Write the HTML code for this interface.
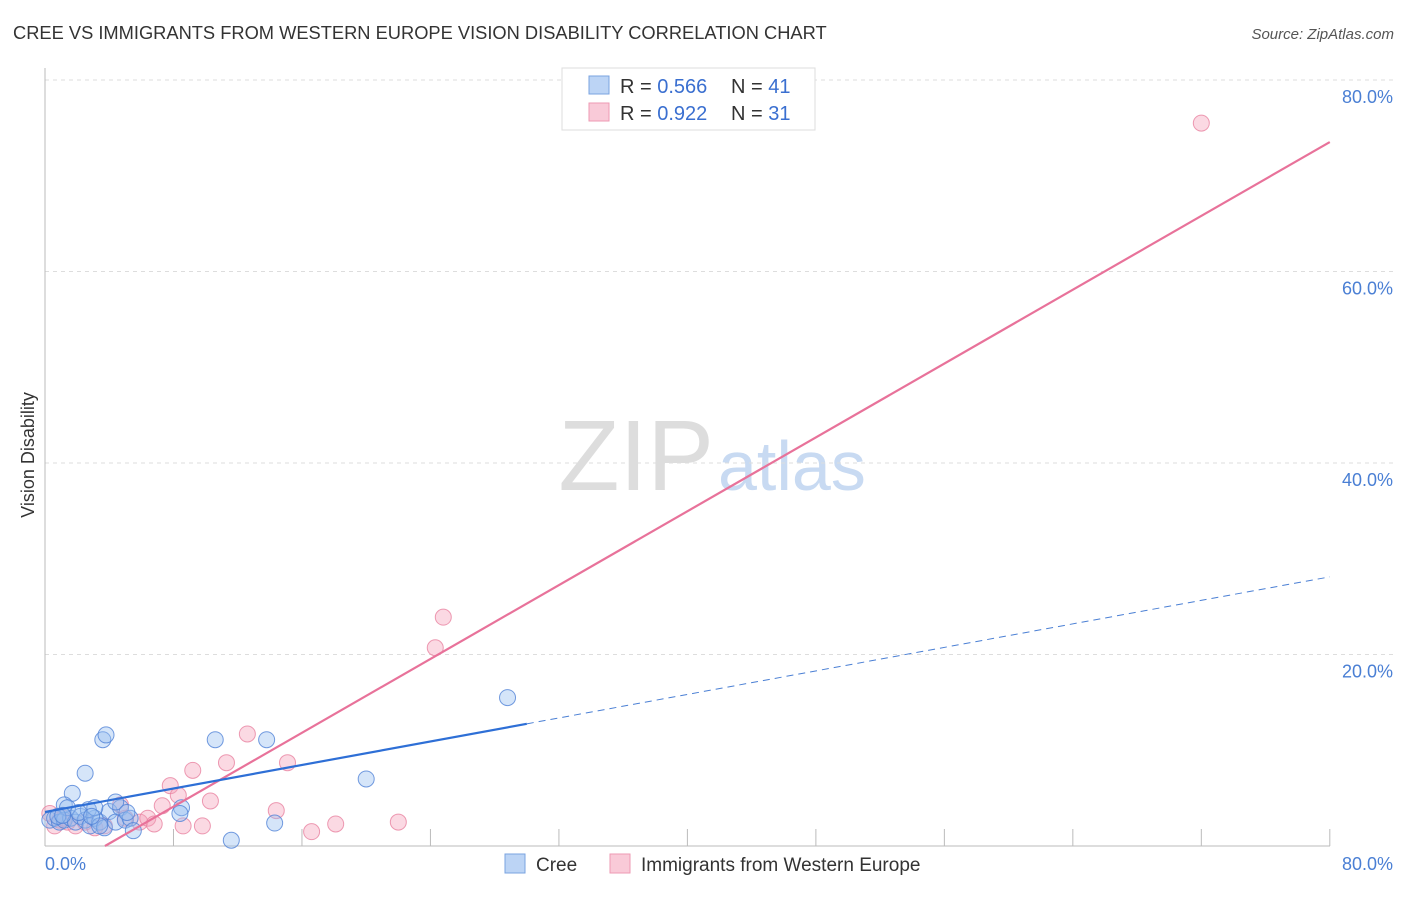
<!DOCTYPE html>
<html><head><meta charset="utf-8"><style>
body{margin:0;background:#fff;font-family:"Liberation Sans",sans-serif;}
svg text{font-family:"Liberation Sans",sans-serif;}
</style></head><body>
<svg width="1406" height="892">
<text x="13" y="39" font-size="18.3" fill="#333">CREE VS IMMIGRANTS FROM WESTERN EUROPE VISION DISABILITY CORRELATION CHART</text>
<text x="1394" y="39" font-size="15" fill="#555" font-style="italic" text-anchor="end">Source: ZipAtlas.com</text>
<text x="714" y="490" font-size="100" fill="#ddd" text-anchor="end" font-family="Liberation Serif,serif">ZIP</text>
<text x="718" y="490" font-size="70" fill="#c8daf2">atlas</text>
<g id="grid"></g>
<g id="marks"></g>
<text transform="translate(34,455) rotate(-90)" font-size="18" fill="#333" text-anchor="middle">Vision Disability</text>
<text x="45" y="870" font-size="18" fill="#4a7fd4">0.0%</text>
<text x="1393" y="870" font-size="18" fill="#4a7fd4" text-anchor="end">80.0%</text>
<g>
<rect x="562" y="68" width="253" height="62" fill="#fff" stroke="#ddd"/>
<rect x="589" y="76" width="20" height="18" fill="#bcd4f5" stroke="#7aa3e0"/>
<rect x="589" y="103" width="20" height="18" fill="#f9cad8" stroke="#ee9ab3"/>
<text x="620" y="93" font-size="20" fill="#333">R = <tspan fill="#3a6fd0">0.566</tspan></text>
<text x="731" y="93" font-size="20" fill="#333">N = <tspan fill="#3a6fd0">41</tspan></text>
<text x="620" y="120" font-size="20" fill="#333">R = <tspan fill="#3a6fd0">0.922</tspan></text>
<text x="731" y="120" font-size="20" fill="#333">N = <tspan fill="#3a6fd0">31</tspan></text>
</g>
<g>
<rect x="505" y="854" width="20" height="19" fill="#bcd4f5" stroke="#7aa3e0"/>
<text x="536" y="871" font-size="19" fill="#333">Cree</text>
<rect x="610" y="854" width="20" height="19" fill="#f9cad8" stroke="#ee9ab3"/>
<text x="641" y="871" font-size="19" fill="#333">Immigrants from Western Europe</text>
</g>
</svg>
<script>
const yTicks=[20,40,60,80];
const creeX=[0.3,0.6,0.9,1.2,1.6,1.9,2.2,2.5,2.8,3.1,3.4,3.7,4.0,4.4,4.7,5.0,5.3,1.7,2.5,1.2,1.4,3.6,3.8,4.4,5.1,5.5,8.5,8.4,10.6,13.8,14.3,20.0,28.8,11.6,2.7,0.8,2.1,3.1,3.4,1.1,2.9];
const creeY=[2.7,2.9,2.5,2.7,2.9,2.5,3.1,2.7,2.1,2.9,2.5,1.9,3.6,2.5,4.0,2.7,2.9,5.5,7.6,4.3,4.0,11.1,11.6,4.6,3.5,1.6,4.0,3.4,11.1,11.1,2.4,7.0,15.5,0.6,3.8,3.1,3.5,4.0,2.1,3.2,3.1];
const weX=[0.3,0.6,0.9,1.4,1.9,2.5,3.1,3.7,4.7,5.0,5.9,6.4,6.8,7.3,7.8,8.3,8.6,9.2,9.8,10.3,11.3,12.6,14.4,15.1,16.6,18.1,22.0,24.3,24.8,72.0,1.2];
const weY=[3.4,2.1,2.7,2.5,2.1,2.5,1.9,2.1,4.3,2.9,2.5,2.9,2.3,4.2,6.3,5.3,2.1,7.9,2.1,4.7,8.7,11.7,3.7,8.7,1.5,2.3,2.5,20.7,23.9,75.5,2.9];
const creeFit=[3.55,0.307], weFit=[-3.6,0.964];
const NS="http://www.w3.org/2000/svg";
const X=v=>45+v*16.06, Y=v=>846-v*9.575;
const grid=document.getElementById('grid'), marks=document.getElementById('marks');
function mk(tag,attrs,parent){const e=document.createElementNS(NS,tag);for(const k in attrs)e.setAttribute(k,attrs[k]);parent.appendChild(e);return e;}
yTicks.forEach(t=>{
  const l=mk('line',{x1:45,x2:1395,y1:Y(t),y2:Y(t),stroke:'#ddd','stroke-dasharray':'4,4'},grid);
  
  
  const tx=mk('text',{x:1393,y:Y(t)+23,'font-size':18,fill:'#4a7fd4','text-anchor':'end'},grid);
  tx.textContent=t.toFixed(1)+'%';
  
  
});
const ax=mk('line',{x1:45,x2:45,y1:68,y2:846,stroke:'#bbb'},grid);


const bx=mk('line',{x1:45,x2:1330,y1:846,y2:846,stroke:'#bbb'},grid);


for(let i=1;i<=10;i++){const t=mk('line',{x1:X(i*8),x2:X(i*8),y1:829,y2:846,stroke:'#bbb'},grid);

}
weX.forEach((x,i)=>{const c=mk('circle',{cx:X(x),cy:Y(weY[i]),r:8,fill:'rgba(244,160,185,0.4)',stroke:'rgba(232,130,160,0.8)'},marks);

});
creeX.forEach((x,i)=>{const c=mk('circle',{cx:X(x),cy:Y(creeY[i]),r:8,fill:'rgba(150,190,240,0.4)',stroke:'rgba(80,130,215,0.8)'},marks);

});
const x0=-weFit[0]/weFit[1];
const pl=mk('line',{x1:X(x0),y1:Y(0),x2:X(80),y2:Y(weFit[0]+weFit[1]*80),stroke:'#e8729a','stroke-width':2.2},marks);


const bl=mk('line',{x1:X(0),y1:Y(creeFit[0]),x2:X(30),y2:Y(creeFit[0]+creeFit[1]*30),stroke:'#2e6fd6','stroke-width':2.2},marks);


const bd=mk('line',{x1:X(30),y1:Y(creeFit[0]+creeFit[1]*30),x2:X(80),y2:Y(creeFit[0]+creeFit[1]*80),stroke:'#4a7fd4','stroke-width':1,'stroke-dasharray':'7,5'},marks);


</script>
</body></html>
